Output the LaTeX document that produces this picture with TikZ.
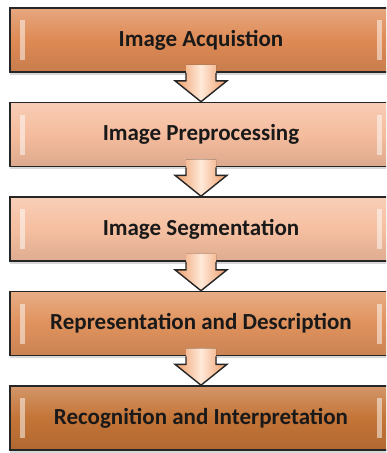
\documentclass[tikz,border=0pt]{standalone}
\usepackage{fontspec}
\setmainfont{Carlito}
\usetikzlibrary{calc,shadows}
\definecolor{acqcol}{HTML}{DE8A55}
\definecolor{precol}{HTML}{F5BC9D}
\definecolor{segcol}{HTML}{F6BFA0}
\definecolor{repcol}{HTML}{E0925D}
\definecolor{reccol}{HTML}{C47437}
\definecolor{arrowedge}{HTML}{EE9C68}
\definecolor{arrowmid}{HTML}{FFE9D8}

\begin{document}
\begin{tikzpicture}[x=1pt, y=1pt,
  stage/.style={rectangle, draw=black!85, line width=1.6pt, minimum width=382pt, minimum height=64pt,
    font=\fontsize{23}{27}\selectfont\bfseries, text=black!90,
    top color=#1!75!white, bottom color=#1!90!black, middle color=#1,
    drop shadow={shadow xshift=-0.5pt, shadow yshift=-2.5pt, opacity=0.3},
    path picture={
      \fill[white, opacity=0.5] ($(path picture bounding box.west)+(10,-20)$) rectangle ++(5,40);
      \fill[white, opacity=0.5] ($(path picture bounding box.east)+(-15,-20)$) rectangle ++(5,40);
    }}]
\tikzstyle{arrowbody} = [left color=arrowedge, right color=arrowedge, middle color=arrowmid]
\tikzstyle{arrowline} = [draw=black!85, line width=1.4pt, line join=miter]
\useasboundingbox (0,0) rectangle (386,-453);
\clip (0,0) rectangle (386,-453);
\fill[white] (0,0) rectangle (386,-453);

\node[stage=acqcol] (acq) at (201, -40) {Image Acquistion};
\node[stage=precol] (pre) at (201, -134.5) {Image Preprocessing};
\node[stage=segcol] (seg) at (201, -229) {Image Segmentation};
\node[stage=repcol] (rep) at (201, -323.5) {Representation and Description};
\node[stage=reccol] (rec) at (201, -418) {Recognition and Interpretation};

% block arrows between the stages
\fill[arrowbody] ($(acq.south)+(-15,8)$) -- ($(acq.south)+(-15,-8)$) -- ($(acq.south)+(-26,-8)$) -- (pre.north) -- ($(acq.south)+(26,-8)$) -- ($(acq.south)+(15,-8)$) -- ($(acq.south)+(15,8)$) -- cycle;
\draw[arrowline] ($(acq.south)+(-15,0)$) -- ($(acq.south)+(-15,-8)$) -- ($(acq.south)+(-26,-8)$) -- (pre.north) -- ($(acq.south)+(26,-8)$) -- ($(acq.south)+(15,-8)$) -- ($(acq.south)+(15,0)$);
\fill[arrowbody] ($(pre.south)+(-15,8)$) -- ($(pre.south)+(-15,-8)$) -- ($(pre.south)+(-26,-8)$) -- (seg.north) -- ($(pre.south)+(26,-8)$) -- ($(pre.south)+(15,-8)$) -- ($(pre.south)+(15,8)$) -- cycle;
\draw[arrowline] ($(pre.south)+(-15,0)$) -- ($(pre.south)+(-15,-8)$) -- ($(pre.south)+(-26,-8)$) -- (seg.north) -- ($(pre.south)+(26,-8)$) -- ($(pre.south)+(15,-8)$) -- ($(pre.south)+(15,0)$);
\fill[arrowbody] ($(seg.south)+(-15,8)$) -- ($(seg.south)+(-15,-8)$) -- ($(seg.south)+(-26,-8)$) -- (rep.north) -- ($(seg.south)+(26,-8)$) -- ($(seg.south)+(15,-8)$) -- ($(seg.south)+(15,8)$) -- cycle;
\draw[arrowline] ($(seg.south)+(-15,0)$) -- ($(seg.south)+(-15,-8)$) -- ($(seg.south)+(-26,-8)$) -- (rep.north) -- ($(seg.south)+(26,-8)$) -- ($(seg.south)+(15,-8)$) -- ($(seg.south)+(15,0)$);
\fill[arrowbody] ($(rep.south)+(-15,8)$) -- ($(rep.south)+(-15,-8)$) -- ($(rep.south)+(-26,-8)$) -- (rec.north) -- ($(rep.south)+(26,-8)$) -- ($(rep.south)+(15,-8)$) -- ($(rep.south)+(15,8)$) -- cycle;
\draw[arrowline] ($(rep.south)+(-15,0)$) -- ($(rep.south)+(-15,-8)$) -- ($(rep.south)+(-26,-8)$) -- (rec.north) -- ($(rep.south)+(26,-8)$) -- ($(rep.south)+(15,-8)$) -- ($(rep.south)+(15,0)$);
\end{tikzpicture}
\end{document}
